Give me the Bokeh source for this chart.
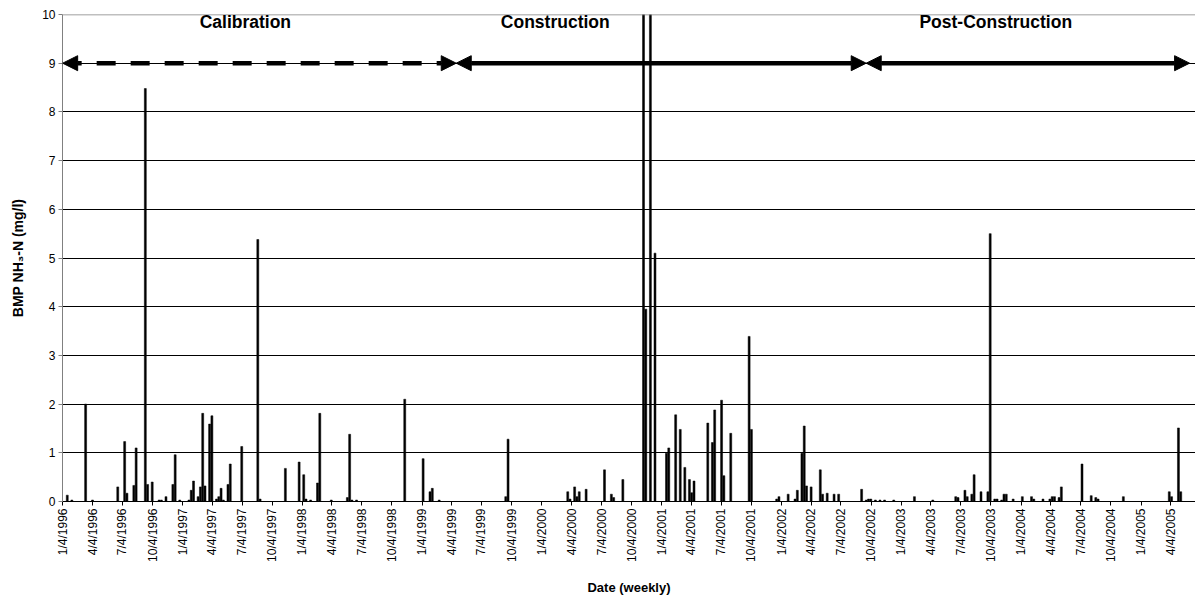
import math
import pandas as pd
from bokeh.plotting import figure
from bokeh.models import ColumnDataSource, Range1d, FixedTicker, Span, Arrow, NormalHead, Label
from bokeh.embed import file_html
from bokeh.resources import INLINE

# ---------------- data ----------------
start_date = "1996-01-04"          # first week of the weekly record
axis_end_date = "2005-06-19"

# sample week (weeks since start_date) with a non-zero NH3-N value
week_no = [2, 4, 10, 13, 24, 27, 28, 31, 32, 36, 37, 39, 42, 43, 45, 48, 49, 51,
           55, 56, 57, 59, 60, 61, 62, 64, 65, 67, 68, 69, 70, 72, 73, 78, 85, 86,
           97, 103, 105, 106, 108, 111, 112, 117, 124, 125, 126, 128, 149, 157,
           160, 161, 164, 193, 194, 220, 221, 223, 224, 225, 228, 236, 239, 240,
           244, 253, 254, 256, 258, 263, 264, 267, 269, 271, 273, 274, 275, 281,
           283, 284, 287, 288, 291, 299, 300, 311, 312, 316, 319, 320, 322, 323,
           324, 326, 330, 331, 333, 336, 338, 348, 350, 351, 352, 354, 356, 358,
           362, 371, 379, 389, 390, 393, 394, 396, 397, 400, 403, 404, 406, 407,
           409, 410, 411, 414, 418, 422, 423, 427, 430, 431, 432, 434, 435, 444,
           448, 450, 451, 462, 482, 483, 486, 487]

# BMP NH3-N concentration (mg/l)
nh3_mg_l = [0.13, 0.03, 2.00, 0.03, 0.30, 1.23, 0.17, 0.33, 1.10, 8.48, 0.35, 0.40, 0.03, 0.03, 0.10, 0.35, 0.96, 0.03,
            0.03, 0.23, 0.42, 0.10, 0.30, 1.81, 0.32, 1.59, 1.76, 0.05, 0.10, 0.27, 0.03, 0.35, 0.77, 1.13, 5.38, 0.05,
            0.68, 0.81, 0.55, 0.05, 0.03, 0.38, 1.81, 0.03, 0.08, 1.38, 0.03, 0.03, 2.10, 0.88,
            0.20, 0.27, 0.03, 0.10, 1.28, 0.20, 0.05, 0.30, 0.10, 0.20, 0.25, 0.65, 0.15, 0.08,
            0.45, 10.50, 3.95, 10.50, 5.10, 0.99, 1.10, 1.78, 1.48, 0.70, 0.45, 0.18, 0.42, 1.61,
            1.21, 1.88, 2.08, 0.53, 1.40, 3.39, 1.48, 0.05, 0.10, 0.15, 0.05, 0.23, 0.99, 1.55,
            0.32, 0.30, 0.65, 0.15, 0.17, 0.15, 0.15, 0.25, 0.03, 0.05, 0.05, 0.03, 0.03, 0.03,
            0.03, 0.10, 0.03, 0.10, 0.08, 0.23, 0.10, 0.15, 0.55, 0.20, 0.20, 5.50, 0.05, 0.05,
            0.03, 0.15, 0.15, 0.05, 0.10, 0.10, 0.05, 0.05, 0.05, 0.10, 0.10, 0.08, 0.30, 0.77,
            0.12, 0.08, 0.05, 0.10, 0.20, 0.10, 1.51, 0.20]

tick_labels = ["1/4/1996", "4/4/1996", "7/4/1996", "10/4/1996",
               "1/4/1997", "4/4/1997", "7/4/1997", "10/4/1997",
               "1/4/1998", "4/4/1998", "7/4/1998", "10/4/1998",
               "1/4/1999", "4/4/1999", "7/4/1999", "10/4/1999",
               "1/4/2000", "4/4/2000", "7/4/2000", "10/4/2000",
               "1/4/2001", "4/4/2001", "7/4/2001", "10/4/2001",
               "1/4/2002", "4/4/2002", "7/4/2002", "10/4/2002",
               "1/4/2003", "4/4/2003", "7/4/2003", "10/4/2003",
               "1/4/2004", "4/4/2004", "7/4/2004", "10/4/2004",
               "1/4/2005", "4/4/2005"]

y_ticks = [0, 1, 2, 3, 4, 5, 6, 7, 8, 9, 10]

phase_names = ["Calibration", "Construction", "Post-Construction"]
phase_bounds = ["1996-01-04", "1999-04-18", "2002-09-19", "2005-06-01"]
phase_label_dates = ["1997-07-14", "2000-02-14", "2003-10-19"]
phase_dash = ["19 15", "solid", "solid"]
phase_level = 9

# ---------------- helpers ----------------
DAY = 86400000.0
FONT = "Liberation Sans"


def ms(ts):
    return float(pd.Timestamp(ts).value // 10**6)


t0 = pd.Timestamp(start_date)
bar_x = [ms(t0 + pd.Timedelta(weeks=w)) for w in week_no]
src = ColumnDataSource(data=dict(x=bar_x, top=nh3_mg_l))

tick_ms = [ms(pd.to_datetime(s, format="%m/%d/%Y")) for s in tick_labels]

p = figure(width=1195, height=608, x_axis_type="datetime",
           output_backend="svg", toolbar_location=None,
           min_border_left=62, min_border_right=0, min_border_top=14, min_border_bottom=107,
           x_range=Range1d(ms(t0) - 0.5 * DAY, ms(axis_end_date)),
           y_range=Range1d(0, 10))
p.background_fill_color = "white"
p.border_fill_color = "white"
p.outline_line_color = None

p.vbar(x="x", top="top", width=6 * DAY, source=src,
       fill_color="black", line_color="black", line_width=0.5)

# grid
p.xgrid.visible = False
p.ygrid.ticker = FixedTicker(ticks=y_ticks[1:-1])
p.ygrid.grid_line_color = "black"
p.ygrid.grid_line_width = 1
p.add_layout(Span(location=y_ticks[-1], dimension="width", line_color="#808080", line_width=1.5))

# y axis
ya = p.yaxis[0]
ya.ticker = FixedTicker(ticks=y_ticks)
ya.axis_line_color = "#808080"
ya.major_tick_line_color = "#808080"
ya.major_tick_out = 4
ya.major_tick_in = 0
ya.minor_tick_line_color = None
ya.major_label_text_font = FONT
ya.major_label_text_font_size = "12px"
ya.major_label_text_color = "black"
ya.major_label_standoff = 3
ya.axis_label = "BMP NH₃-N (mg/l)"
ya.axis_label_text_font = FONT
ya.axis_label_text_font_size = "14px"
ya.axis_label_text_font_style = "bold"
ya.axis_label_text_color = "black"
ya.axis_label_standoff = 13

# x axis
xa = p.xaxis[0]
xa.ticker = FixedTicker(ticks=tick_ms)
xa.major_label_overrides = {t: l for t, l in zip(tick_ms, tick_labels)}
xa.major_label_orientation = math.pi / 2
xa.axis_line_color = "black"
xa.major_tick_line_color = "black"
xa.major_tick_out = 4
xa.major_tick_in = 0
xa.minor_tick_line_color = None
xa.major_label_text_font = FONT
xa.major_label_text_font_size = "12px"
xa.major_label_text_color = "black"
xa.major_label_standoff = 3
xa.axis_label = "Date (weekly)"
xa.axis_label_text_font = FONT
xa.axis_label_text_font_size = "13px"
xa.axis_label_text_font_style = "bold"
xa.axis_label_text_color = "black"
xa.axis_label_standoff = 15

# phase arrows and labels
for name, a, b, lab, dash in zip(phase_names, phase_bounds[:-1], phase_bounds[1:],
                                 phase_label_dates, phase_dash):
    p.add_layout(Arrow(x_start=ms(a), x_end=ms(b), y_start=phase_level, y_end=phase_level,
                       line_width=4.5, line_color="black", line_dash=dash,
                       start=NormalHead(size=15, fill_color="black", line_color="black", line_width=1),
                       end=NormalHead(size=15, fill_color="black", line_color="black", line_width=1)))
    p.add_layout(Label(x=ms(lab), y=9.84, text=name, text_align="center", text_baseline="middle",
                       text_font=FONT, text_font_size="17.5px", text_font_style="bold",
                       text_color="black"))

open("out.html", "w").write(file_html(p, INLINE))
